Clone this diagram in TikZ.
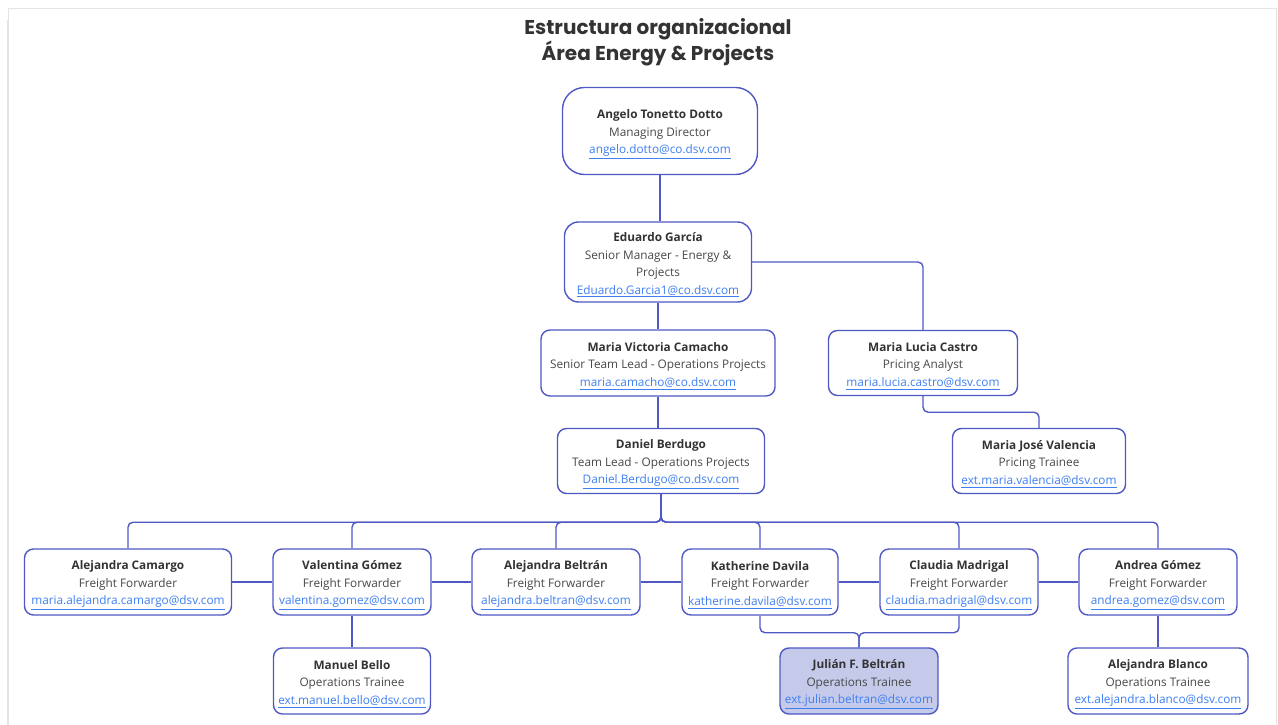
\documentclass[tikz,border=0pt]{standalone}
\usepackage{fontspec}
\setmainfont{Open Sans}
\newfontfamily\titlefont{Poppins}
\usepackage{tikz}
\usepackage{xcolor}
\usetikzlibrary{positioning}
\definecolor{linkline}{HTML}{5058C4}
\definecolor{namegray}{HTML}{333333}
\definecolor{rolegray}{HTML}{484848}
\definecolor{mailblue}{HTML}{3F7FF2}
\definecolor{youbg}{HTML}{C5CAEA}
\definecolor{framegray}{HTML}{E4E4E4}
\newcommand{\pname}[1]{{\bfseries\color{namegray}\rule{0pt}{15pt}#1}}
\newcommand{\pmail}[1]{{\color{mailblue}\underline{#1}}}

\begin{document}
\begin{tikzpicture}[x=1pt,y=-1pt,
    card/.style={draw=linkline,line width=1.4pt,fill=white,rounded corners=9pt,
        align=center,inner sep=0pt,text=rolegray,
        font=\fontsize{11.8}{17.5}\selectfont},
    link/.style={draw=linkline,line width=1.4pt,rounded corners=5pt}]
  \useasboundingbox (0,0) rectangle (1278,725);
  % page frame
  \draw[framegray,line width=0.8pt] (8,725) -- (8,8) -- (1276,8) -- (1276,725);
  \draw[framegray,line width=1.6pt] (8,20) -- (8,725);

  \node[font=\titlefont\bfseries\fontsize{20}{25}\selectfont,text=namegray,align=center] (title) at (658,42)
    {Estructura organizacional\\Área Energy \& Projects};

  % management line
  \node[card,rounded corners=22pt,minimum width=195pt,minimum height=87pt] (angelo) at (660,131)
    {\pname{Angelo Tonetto Dotto}\\Managing Director\\\pmail{angelo.dotto@co.dsv.com}};
  \node[card,rounded corners=14pt,minimum width=187pt,minimum height=80pt] (eduardo) at (658,262)
    {\pname{Eduardo García}\\Senior Manager - Energy \&\\Projects\\\pmail{Eduardo.Garcia1@co.dsv.com}};
  \node[card,minimum width=234pt,minimum height=66pt] (camacho) at (658,363)
    {\pname{Maria Victoria Camacho}\\Senior Team Lead - Operations Projects\\\pmail{maria.camacho@co.dsv.com}};
  \node[card,minimum width=207pt,minimum height=65pt] (berdugo) at (661,461)
    {\pname{Daniel Berdugo}\\Team Lead - Operations Projects\\\pmail{Daniel.Berdugo@co.dsv.com}};

  % pricing
  \node[card,minimum width=189pt,minimum height=65pt] (castro) at (923,363)
    {\pname{Maria Lucia Castro}\\Pricing Analyst\\\pmail{maria.lucia.castro@dsv.com}};
  \node[card,minimum width=173pt,minimum height=65pt] (valencia) at (1039,461)
    {\pname{Maria José Valencia}\\Pricing Trainee\\\pmail{ext.maria.valencia@dsv.com}};

  % freight forwarders
  \node[card,minimum width=207pt,minimum height=66pt] (camargo) at (128,582)
    {\pname{Alejandra Camargo}\\Freight Forwarder\\\pmail{maria.alejandra.camargo@dsv.com}};
  \node[card,minimum width=158pt,minimum height=66pt] (gomezv) at (352,582)
    {\pname{Valentina Gómez}\\Freight Forwarder\\\pmail{valentina.gomez@dsv.com}};
  \node[card,minimum width=168pt,minimum height=66pt] (beltran) at (556,582)
    {\pname{Alejandra Beltrán}\\Freight Forwarder\\\pmail{alejandra.beltran@dsv.com}};
  \node[card,minimum width=156pt,minimum height=66pt] (davila) at (760,582)
    {\pname{Katherine Davila}\\Freight Forwarder\\\pmail{katherine.davila@dsv.com}};
  \node[card,minimum width=158pt,minimum height=66pt] (madrigal) at (959,582)
    {\pname{Claudia Madrigal}\\Freight Forwarder\\\pmail{claudia.madrigal@dsv.com}};
  \node[card,minimum width=158pt,minimum height=66pt] (gomeza) at (1158,582)
    {\pname{Andrea Gómez}\\Freight Forwarder\\\pmail{andrea.gomez@dsv.com}};

  % trainees
  \node[card,minimum width=157pt,minimum height=66pt] (bello) at (352,681)
    {\pname{Manuel Bello}\\Operations Trainee\\\pmail{ext.manuel.bello@dsv.com}};
  \node[card,fill=youbg,minimum width=158pt,minimum height=66pt] (julian) at (859,681)
    {\pname{Julián F. Beltrán}\\Operations Trainee\\\pmail{ext.julian.beltran@dsv.com}};
  \node[card,minimum width=180pt,minimum height=66pt] (blanco) at (1158,681)
    {\pname{Alejandra Blanco}\\Operations Trainee\\\pmail{ext.alejandra.blanco@dsv.com}};

  % connectors
  \draw[link] (angelo.south) -- (angelo.south |- eduardo.north);
  \draw[link] (eduardo.south) -- (camacho.north);
  \draw[link] (eduardo.east) -| (castro.north);
  \draw[link] (camacho.south) -- (camacho.south |- berdugo.north);
  \draw[link] (castro.south) -- ++(0,16) -| (valencia.north);
  \foreach \kid in {camargo,gomezv,beltran,davila,madrigal,gomeza}
    \draw[link] (berdugo.south) -- ++(0,28) -| (\kid.north);
  \draw[link] (camargo.east) -- (gomezv.west);
  \draw[link] (gomezv.east) -- (beltran.west);
  \draw[link] (beltran.east) -- (davila.west);
  \draw[link] (davila.east) -- (madrigal.west);
  \draw[link] (madrigal.east) -- (gomeza.west);
  \draw[link] (gomezv.south) -- (bello.north);
  \draw[link] (gomeza.south) -- (blanco.north);
  \draw[link] (davila.south) -- ++(0,17) -| (julian.north);
  \draw[link] (madrigal.south) -- ++(0,17) -| (julian.north);
\end{tikzpicture}
\end{document}
